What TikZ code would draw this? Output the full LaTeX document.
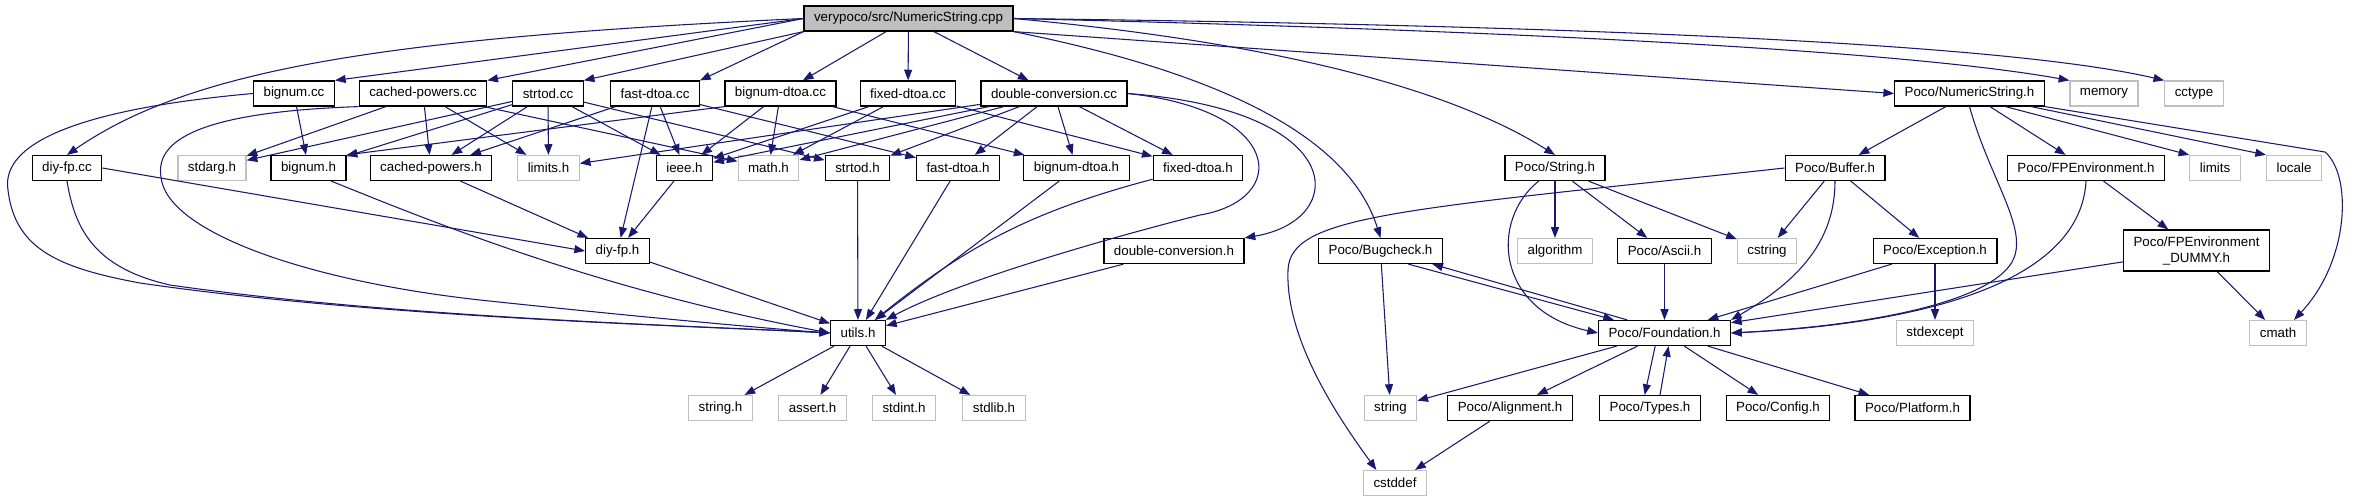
\documentclass[tikz,border=0pt]{standalone}
\usepackage{fontspec}
\setmainfont{Liberation Sans}
\usetikzlibrary{arrows.meta}
\definecolor{depblue}{HTML}{191970}
\definecolor{sysgray}{HTML}{BFBFBF}

\begin{document}
\begin{tikzpicture}[x=0.75pt, y=-0.75pt,
  hdr/.style={draw=black, line width=0.9pt, minimum height=18.75pt, inner xsep=7.5pt, inner ysep=1pt, font=\fontsize{10}{12}\selectfont},
  syshdr/.style={hdr, draw=sysgray},
  srcroot/.style={hdr, fill=sysgray},
  dep/.style={draw=depblue, line width=0.8pt, -{Triangle[length=8pt, width=6pt]}}]
  \useasboundingbox (0,0) rectangle (2353,501);
  % source file
  \node[srcroot] (root) at (908.5,18.5) {verypoco/src/NumericString.cpp};
  % level 1
  \node[hdr] (bignumcc) at (294,93.5) {bignum.cc};
  \node[hdr] (cachedpowerscc) at (423,93.5) {cached-powers.cc};
  \node[hdr] (strtodcc) at (548,93.5) {strtod.cc};
  \node[hdr] (fastdtoacc) at (655,93.5) {fast-dtoa.cc};
  \node[hdr] (bignumdtoacc) at (780.5,93.5) {bignum-dtoa.cc};
  \node[hdr] (fixeddtoacc) at (908,93.5) {fixed-dtoa.cc};
  \node[hdr] (dconvcc) at (1054,93.5) {double-conversion.cc};
  \node[hdr] (nsh) at (1969.5,93.5) {Poco/NumericString.h};
  \node[syshdr] (memory) at (2104,93.5) {memory};
  \node[syshdr] (cctype) at (2194,93.5) {cctype};
  % level 2
  \node[hdr] (diyfpcc) at (67,168) {diy-fp.cc};
  \node[syshdr] (stdargh) at (212,168) {stdarg.h};
  \node[hdr] (bignumh) at (308.5,168) {bignum.h};
  \node[hdr] (cachedpowersh) at (431,168) {cached-powers.h};
  \node[syshdr] (limitsh) at (548.5,168) {limits.h};
  \node[hdr] (ieeeh) at (684.5,168) {ieee.h};
  \node[syshdr] (mathh) at (768.5,168) {math.h};
  \node[hdr] (strtodh) at (857.5,168) {strtod.h};
  \node[hdr] (fastdtoah) at (958,168) {fast-dtoa.h};
  \node[hdr] (bignumdtoah) at (1076.5,168) {bignum-dtoa.h};
  \node[hdr] (fixeddtoah) at (1198,168) {fixed-dtoa.h};
  \node[hdr] (stringh) at (1555,168) {Poco/String.h};
  \node[hdr] (bufferh) at (1835,168) {Poco/Buffer.h};
  \node[hdr] (fpenvh) at (2086,168) {Poco/FPEnvironment.h};
  \node[syshdr] (limits) at (2215,168) {limits};
  \node[syshdr] (locale) at (2294,168) {locale};
  % level 3
  \node[hdr] (diyfph) at (617.5,251) {diy-fp.h};
  \node[hdr] (dconvh) at (1174,251) {double-conversion.h};
  \node[hdr] (bugcheckh) at (1380.5,251) {Poco/Bugcheck.h};
  \node[syshdr] (algorithm) at (1555,251) {algorithm};
  \node[hdr] (asciih) at (1664.5,251) {Poco/Ascii.h};
  \node[syshdr] (cstring) at (1767,251) {cstring};
  \node[hdr] (exceptionh) at (1935,251) {Poco/Exception.h};
  \node[hdr, align=center, minimum height=30.75pt] (fpdummyh) at (2196.5,250.5) {Poco/FPEnvironment\\\_DUMMY.h};
  % level 4
  \node[hdr] (utilsh) at (858,333) {utils.h};
  \node[hdr] (foundationh) at (1664.5,333) {Poco/Foundation.h};
  \node[syshdr] (stdexcept) at (1935,333) {stdexcept};
  \node[syshdr] (cmath) at (2278,333) {cmath};
  % level 5
  \node[syshdr] (stringdoth) at (720.5,408) {string.h};
  \node[syshdr] (asserth) at (812.5,408) {assert.h};
  \node[syshdr] (stdinth) at (904,408) {stdint.h};
  \node[syshdr] (stdlibh) at (994,408) {stdlib.h};
  \node[syshdr] (string) at (1390.5,408) {string};
  \node[hdr] (alignmenth) at (1510,408) {Poco/Alignment.h};
  \node[hdr] (typesh) at (1650,408) {Poco/Types.h};
  \node[hdr] (configh) at (1778,408) {Poco/Config.h};
  \node[hdr] (platformh) at (1912.5,408) {Poco/Platform.h};
  % level 6
  \node[syshdr] (cstddef) at (1395,483) {cstddef};

  % includes of the source file
  \draw[dep] (root.west) .. controls (380,38) and (190,70) .. (diyfpcc.north);
  \draw[dep] (root.west) -- (bignumcc.north east);
  \draw[dep] (root.west) -- (cachedpowerscc.north east);
  \draw[dep] (root.south west) -- (strtodcc.north east);
  \draw[dep] (root.south west) -- (fastdtoacc.north east);
  \foreach \t in {bignumdtoacc,fixeddtoacc,dconvcc} \draw[dep] (root) -- (\t);
  \draw[dep] (root.south east) .. controls (1230,75) and (1350,140) .. (bugcheckh.north);
  \draw[dep] (root.east) .. controls (1300,45) and (1460,95) .. (stringh.north);
  \draw[dep] (root.south east) -- (nsh.west);
  \draw[dep] (root.east) .. controls (1500,30) and (1900,50) .. (memory.north west);
  \draw[dep] (root.east) .. controls (1550,25) and (2000,42) .. (cctype.north west);

  % double-conversion sources
  \draw[dep] (bignumcc) -- (bignumh);
  \draw[dep] (bignumcc.west) .. controls (90,108) and (0,140) .. (8,190) .. controls (15,250) and (60,268) .. (140,283) .. controls (380,318) and (700,326) .. (utilsh.west);
  \draw[dep] (diyfpcc.south) .. controls (75,230) and (95,268) .. (170,285) .. controls (400,318) and (700,326) .. (utilsh.west);
  \draw[dep] (diyfpcc.east) -- (diyfph.west);
  \foreach \t in {stdargh,cachedpowersh,limitsh,mathh} \draw[dep] (cachedpowerscc) -- (\t);
  \draw[dep] (cachedpowerscc.south west) .. controls (200,112) and (155,140) .. (161,177) .. controls (166,230) and (300,280) .. (480,300) .. controls (620,315) and (760,328) .. (utilsh.west);
  \foreach \t in {stdargh,bignumh,cachedpowersh,limitsh,ieeeh,strtodh} \draw[dep] (strtodcc) -- (\t);
  \foreach \t in {cachedpowersh,ieeeh,diyfph,fastdtoah} \draw[dep] (fastdtoacc) -- (\t);
  \draw[dep] (bignumdtoacc.south west) -- (bignumh.north east);
  \foreach \t in {ieeeh,mathh,bignumdtoah} \draw[dep] (bignumdtoacc) -- (\t);
  \foreach \t in {ieeeh,mathh,fixeddtoah} \draw[dep] (fixeddtoacc) -- (\t);
  \foreach \t in {limitsh,ieeeh,mathh,strtodh,fastdtoah,bignumdtoah,fixeddtoah} \draw[dep] (dconvcc) -- (\t);
  \draw[dep] (dconvcc.east) .. controls (1350,110) and (1350,220) .. (dconvh.north east);
  \draw[dep] (dconvcc.east) .. controls (1285,110) and (1290,200) .. (1200,215) .. controls (1120,235) and (960,280) .. (utilsh.north east);

  % double-conversion headers
  \draw[dep] (ieeeh) -- (diyfph);
  \draw[dep] (cachedpowersh) -- (diyfph);
  \draw[dep] (bignumh.-30) .. controls (440,225) and (600,290) .. (utilsh.west);
  \foreach \t in {diyfph,strtodh,fastdtoah,bignumdtoah,dconvh} \draw[dep] (\t) -- (utilsh);
  \draw[dep] (fixeddtoah) to[bend right=12] (utilsh);
  \foreach \t in {stringdoth,asserth,stdinth,stdlibh} \draw[dep] (utilsh) -- (\t);

  % Poco headers
  \foreach \t in {algorithm,asciih,cstring} \draw[dep] (stringh) -- (\t);
  \draw[dep] (stringh) .. controls (1490,220) and (1495,310) .. (foundationh.west);
  \draw[dep] ([xshift=-26pt]bugcheckh.south east) -- ([xshift=12pt]foundationh.north west);
  \draw[dep] ([xshift=22pt]foundationh.north west) -- ([xshift=-8pt]bugcheckh.south east);
  \draw[dep] (bugcheckh) -- (string);
  \foreach \t in {string,alignmenth,configh,platformh} \draw[dep] (foundationh) -- (\t);
  \draw[dep] ([xshift=-7pt]foundationh.south) -- ([xshift=-4pt]typesh.north);
  \draw[dep] ([xshift=7.5pt]typesh.north) -- ([xshift=3pt]foundationh.south);
  \draw[dep] (alignmenth) -- (cstddef);
  \foreach \t in {cstring,exceptionh} \draw[dep] (bufferh) -- (\t);
  \draw[dep] (bufferh.south) .. controls (1835,240) and (1800,280) .. (foundationh.north east);
  \draw[dep] (bufferh.west) .. controls (1400,210) and (1290,215) .. (1288,270) .. controls (1285,340) and (1340,420) .. ([xshift=-14pt]cstddef.north);
  \foreach \t in {stdexcept,foundationh} \draw[dep] (exceptionh) -- (\t);
  \draw[dep] (nsh) -- (bufferh);
  \draw[dep] (nsh) -- (fpenvh);
  \draw[dep] (nsh.-20) -- (limits.north west);
  \draw[dep] (nsh.-12) -- (locale.north west);
  \draw[dep] (nsh.south) .. controls (1990,180) and (2030,230) .. (2012,262) .. controls (1990,300) and (1880,325) .. (foundationh.east);
  \draw[dep] (nsh.south east) -- (2325,152) .. controls (2352,175) and (2350,260) .. ([xshift=12pt]cmath.north);
  \draw[dep] (fpenvh) -- (fpdummyh);
  \draw[dep] (fpenvh.south) .. controls (2080,290) and (1900,325) .. (foundationh.east);
  \draw[dep] (fpdummyh) -- (foundationh);
  \draw[dep] (fpdummyh) -- (cmath);
  \draw[dep] (asciih) -- (foundationh);
\end{tikzpicture}
\end{document}
